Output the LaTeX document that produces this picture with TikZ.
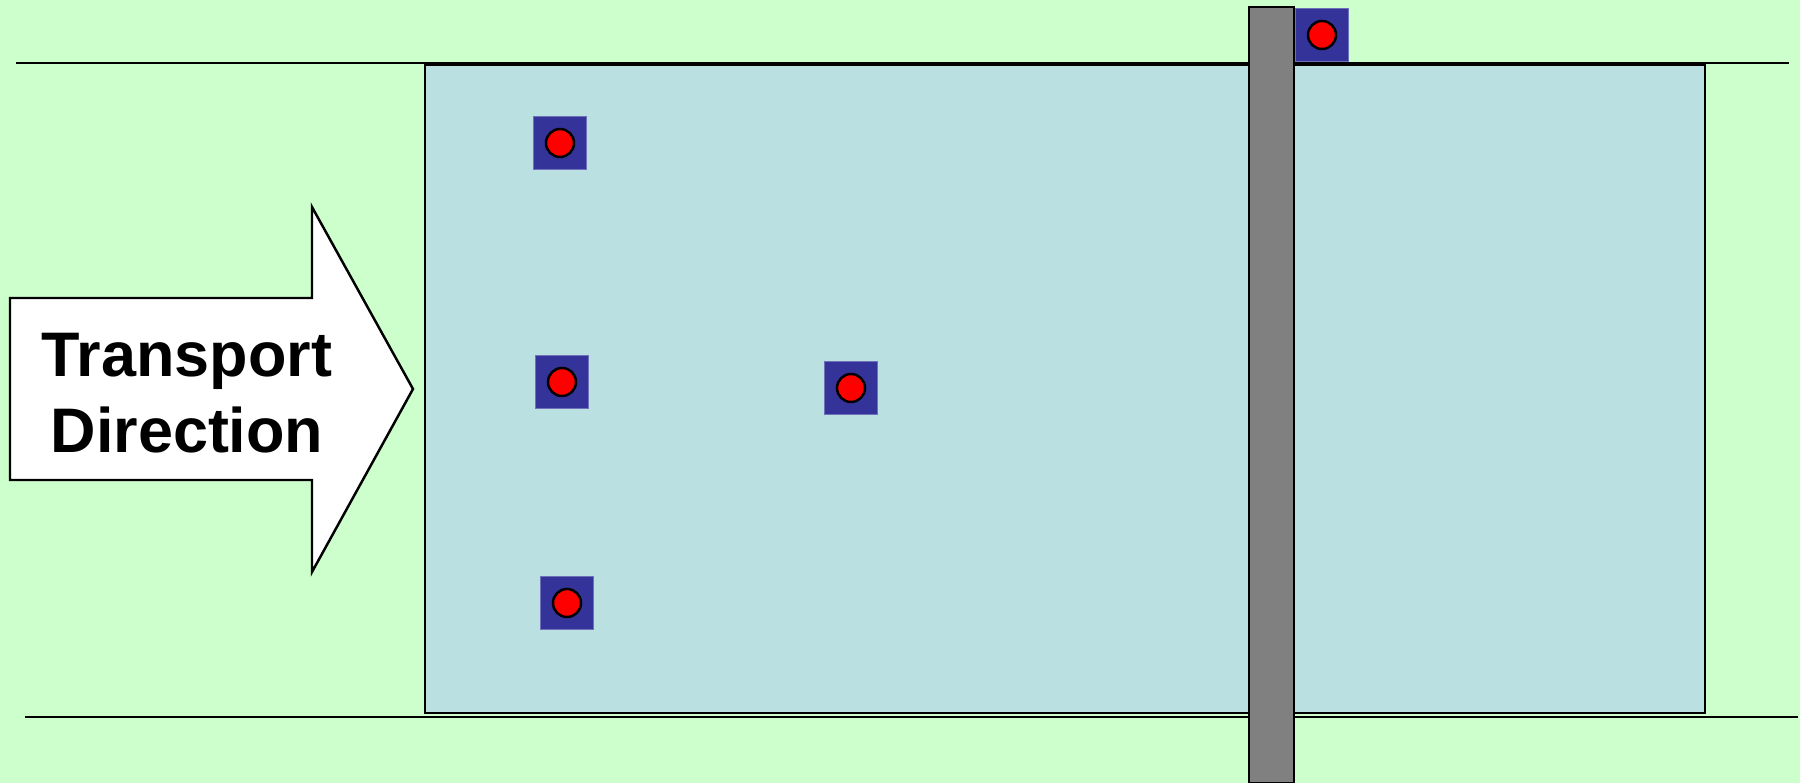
\documentclass[tikz,border=0pt]{standalone}
\usepackage{fontspec}
\setmainfont{Liberation Sans}
\begin{document}
\begin{tikzpicture}[x=0.01cm,y=-0.01cm,
  edge/.style={draw=black,line width=0.7pt},
  chip/.style={fill=chipblue,draw=chipblue!70!white,line width=0.2pt,minimum size=0.53cm,inner sep=0pt,outer sep=0pt},
  dot/.style={circle,fill=red,draw=black,line width=0.7pt,minimum size=0.28cm,inner sep=0pt}]
\definecolor{bg}{RGB}{204,255,204}
\definecolor{conv}{RGB}{186,224,226}
\definecolor{chipblue}{RGB}{51,51,153}
\definecolor{bar}{RGB}{128,128,128}
\fill[bg] (0,0) rectangle (1800,783);
\useasboundingbox (0,0) rectangle (1800,783);
\coordinate (tl1) at (16,63); \coordinate (tl2) at (1789,63);
\coordinate (bl1) at (25,717); \coordinate (bl2) at (1798,717);
\draw[edge] (tl1) -- (tl2);
\draw[edge] (bl1) -- (bl2);
\draw[edge,fill=conv] (425,65) rectangle (1705,713);
\draw[edge,fill=bar] (1249,7) rectangle (1294,783);
% arrow
\draw[edge,fill=white] (10,298) -- (312,298) -- (312,207) -- (413,389) -- (312,572) -- (312,480) -- (10,480) -- cycle;
\node[align=center,font=\bfseries\fontsize{17.9pt}{21.6pt}\selectfont,inner sep=0pt] (txt) at (187,393) {Transport\\Direction};
% chips
\foreach \n/\x/\y in {c1/560/143, c2/562/382, c3/851/388, c4/567/603, c5/1322/35}{
  \node[chip] (\n) at (\x,\y) {};
  \node[dot] (\n d) at (\n) {};
}
\end{tikzpicture}
\end{document}
